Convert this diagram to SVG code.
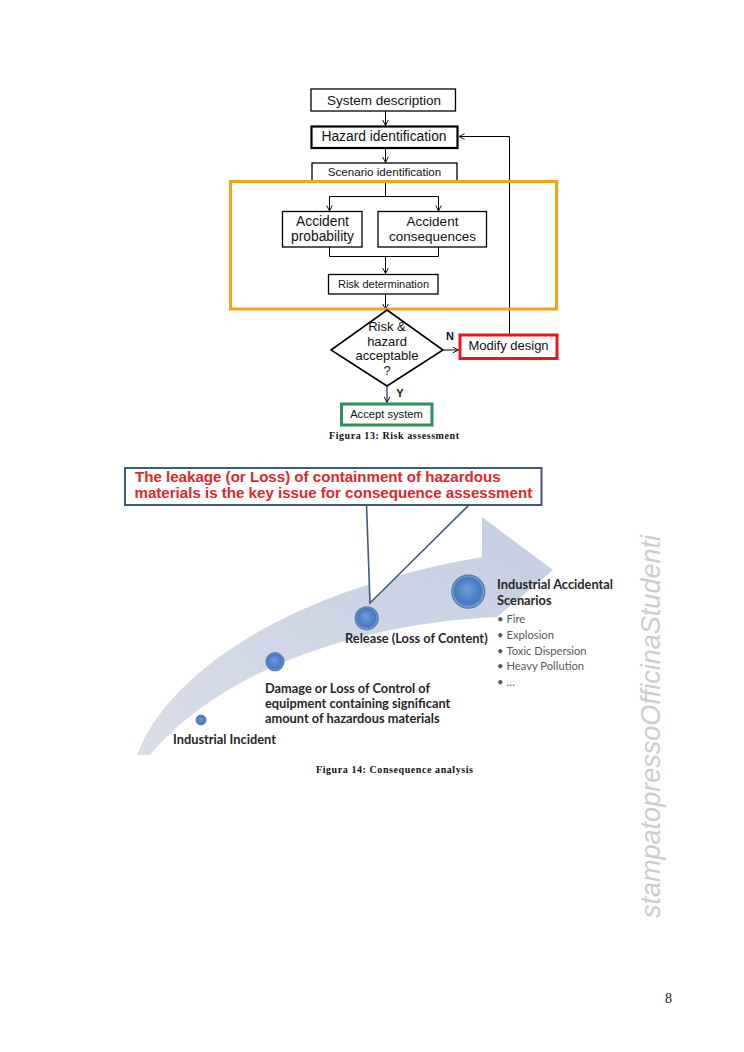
<svg xmlns="http://www.w3.org/2000/svg" width="744" height="1052" viewBox="0 0 744 1052">
<style>
.box{fill:#fff;stroke:#000;stroke-width:1.3}
.fc{font-family:"Liberation Sans",Arial,sans-serif;fill:#111;text-anchor:middle}
.ln{fill:none;stroke:#000;stroke-width:1}
.cap{font-family:"Liberation Serif","Times New Roman",serif;font-weight:bold;font-size:10px;fill:#111}
.ch{font-family:Lato,"Open Sans",sans-serif;font-weight:bold;font-size:12.8px;fill:#262626}
.bl{font-family:Lato,"Open Sans",sans-serif;font-size:11.2px;fill:#595959}
.red{font-family:"Liberation Sans",Arial,sans-serif;font-weight:bold;font-size:15.1px;fill:#e3262b}
.dot{fill:url(#cg);stroke:#5878a8;stroke-width:1.2}
</style>
<defs>
<marker id="ah" viewBox="0 0 10 10" refX="9" refY="5" markerWidth="7" markerHeight="7" orient="auto" markerUnits="userSpaceOnUse">
<polyline points="1,1 9,5 1,9" fill="none" stroke="#000" stroke-width="1.3"/>
</marker>
<linearGradient id="bg" x1="0" y1="1" x2="1" y2="0">
<stop offset="0" stop-color="#d9dee9"/>
<stop offset="1" stop-color="#c4cde2"/>
</linearGradient>
<radialGradient id="cg" cx="0.5" cy="0.5" r="0.5" fx="0.45" fy="0.4">
<stop offset="0" stop-color="#6f9fe0"/>
<stop offset="0.8" stop-color="#4677c0"/>
<stop offset="1" stop-color="#8eaad3"/>
</radialGradient>
</defs>

<!-- Figure 13 -->
<g id="connectors">
<line class="ln" x1="385.5" y1="111" x2="385.5" y2="125.5" marker-end="url(#ah)"/>
<line class="ln" x1="385.5" y1="148" x2="385.5" y2="162.5" marker-end="url(#ah)"/>
<polyline class="ln" points="385.5,181 385.5,196.5"/>
<polyline class="ln" points="329.5,211 329.5,196.5 438.5,196.5 438.5,211" />
<line class="ln" x1="329.5" y1="196.5" x2="329.5" y2="211" marker-end="url(#ah)"/>
<line class="ln" x1="438.5" y1="196.5" x2="438.5" y2="211" marker-end="url(#ah)"/>
<polyline class="ln" points="329.5,247 329.5,256.5 438.5,256.5 438.5,247"/>
<line class="ln" x1="385.5" y1="256.5" x2="385.5" y2="273.5" marker-end="url(#ah)"/>
<line class="ln" x1="385.5" y1="294" x2="385.5" y2="309.5" marker-end="url(#ah)"/>
<line class="ln" x1="387" y1="386" x2="387" y2="402.5" marker-end="url(#ah)"/>
<line class="ln" x1="443" y1="350" x2="458.5" y2="350" marker-end="url(#ah)"/>
<polyline class="ln" points="509.5,334 509.5,136.5 459,136.5" marker-end="url(#ah)"/>
</g>

<g id="system-description">
<rect class="box" x="311" y="89" width="144.5" height="22"/>
<text class="fc" x="384" y="105" font-size="13.5">System description</text>
</g>
<g id="hazard-identification">
<rect class="box" x="311.5" y="126.5" width="146" height="21.5" style="stroke-width:2.2"/>
<text class="fc" x="384" y="141" font-size="13.8">Hazard identification</text>
</g>
<g id="scenario-identification">
<rect class="box" x="312" y="163" width="145" height="19"/>
<text class="fc" x="384.5" y="175.5" font-size="11.6">Scenario identification</text>
</g>
<g id="orange-frame">
<rect x="230.5" y="181.5" width="326" height="127.5" fill="none" stroke="#f4a11d" stroke-width="3"/>
</g>
<g id="accident-probability">
<rect class="box" x="282.5" y="211.5" width="79.5" height="35.5"/>
<text class="fc" x="322.5" y="226" font-size="13.8">Accident</text>
<text class="fc" x="322.5" y="241" font-size="13.8">probability</text>
</g>
<g id="accident-consequences">
<rect class="box" x="378" y="211.5" width="108.5" height="35.5"/>
<text class="fc" x="432.5" y="226" font-size="13.5">Accident</text>
<text class="fc" x="432.5" y="241" font-size="13.5">consequences</text>
</g>
<g id="risk-determination">
<rect class="box" x="328.5" y="274.5" width="109.5" height="19.5"/>
<text class="fc" x="383.5" y="288" font-size="11">Risk determination</text>
</g>
<g id="decision">
<polygon points="387,310 443,350 387,386 331,350" fill="#fff" stroke="#000" stroke-width="1.6"/>
<text class="fc" x="387" y="330.5" font-size="13">Risk &amp;</text>
<text class="fc" x="387" y="345.5" font-size="13">hazard</text>
<text class="fc" x="387" y="360" font-size="13">acceptable</text>
<text class="fc" x="387" y="374.5" font-size="13">?</text>
<text class="fc" x="450" y="340" font-size="11" font-weight="bold">N</text>
<text class="fc" x="400" y="397" font-size="11" font-weight="bold">Y</text>
</g>
<g id="modify-design">
<rect x="460" y="335" width="97" height="23.5" fill="#fff" stroke="#e3191c" stroke-width="3"/>
<text class="fc" x="508.5" y="350" font-size="13">Modify design</text>
</g>
<g id="accept-system">
<rect x="341.5" y="404" width="90.5" height="21" fill="#fff" stroke="#2e8f5f" stroke-width="3"/>
<text class="fc" x="386.5" y="418" font-size="11.2">Accept system</text>
</g>
<text class="cap" x="329" y="439" textLength="130" lengthAdjust="spacing">Figura 13: Risk assessment</text>

<!-- Figure 14 -->
<g id="progress-arrow">
<path d="M137,755 C168,672 290,590 482,557 L482,517 L553,570 L497,617 C380,622 230,660 150,755 Z" fill="url(#bg)"/>
</g>
<g id="callout">
<polygon points="366.5,504 370,603 470,504" fill="#fff"/>
<polyline points="366.5,504 370,603 470,504" fill="none" stroke="#3f5b74" stroke-width="1.6"/>
<rect x="125" y="468" width="416.5" height="37" fill="#fff" stroke="#3f5b74" stroke-width="2"/>
<text class="red" x="135" y="482">The leakage (or Loss) of containment of hazardous</text>
<text class="red" x="134.5" y="498">materials is the key issue for consequence assessment</text>
</g>
<g id="industrial-incident">
<circle class="dot" cx="201" cy="720" r="4.8"/>
<text class="ch" x="173" y="744">Industrial Incident</text>
</g>
<g id="damage">
<circle class="dot" cx="275" cy="661.7" r="9"/>
<text class="ch" x="265" y="693">Damage or Loss of Control of</text>
<text class="ch" x="265" y="708">equipment containing significant</text>
<text class="ch" x="265" y="723">amount of hazardous materials</text>
</g>
<g id="release">
<circle class="dot" cx="366.7" cy="618.3" r="11.5"/>
<text class="ch" x="345" y="643">Release (Loss of Content)</text>
</g>
<g id="scenarios">
<circle class="dot" cx="468.3" cy="591.7" r="16.5"/>
<text class="ch" x="497" y="589">Industrial Accidental</text>
<text class="ch" x="497" y="605">Scenarios</text>
<text class="bl" x="497" y="623" font-size="13">•</text><text class="bl" x="506.5" y="623">Fire</text>
<text class="bl" x="497" y="639" font-size="13">•</text><text class="bl" x="506.5" y="639">Explosion</text>
<text class="bl" x="497" y="655" font-size="13">•</text><text class="bl" x="506.5" y="655">Toxic Dispersion</text>
<text class="bl" x="497" y="670" font-size="13">•</text><text class="bl" x="506.5" y="670">Heavy Pollution</text>
<text class="bl" x="497" y="686" font-size="13">•</text><text class="bl" x="506.5" y="686">…</text>
</g>
<text class="cap" x="316" y="773" textLength="157" lengthAdjust="spacing">Figura 14: Consequence analysis</text>

<text x="0" y="0" transform="translate(660,918) rotate(-90)" font-family="'Liberation Sans',Arial,sans-serif" font-style="italic" font-size="27" fill="#cdcdcd" textLength="383" lengthAdjust="spacingAndGlyphs">stampatopressoOfficinaStudenti</text>
<text x="665" y="1003" font-family="'Liberation Serif','Times New Roman',serif" font-size="14" fill="#222">8</text>
</svg>
